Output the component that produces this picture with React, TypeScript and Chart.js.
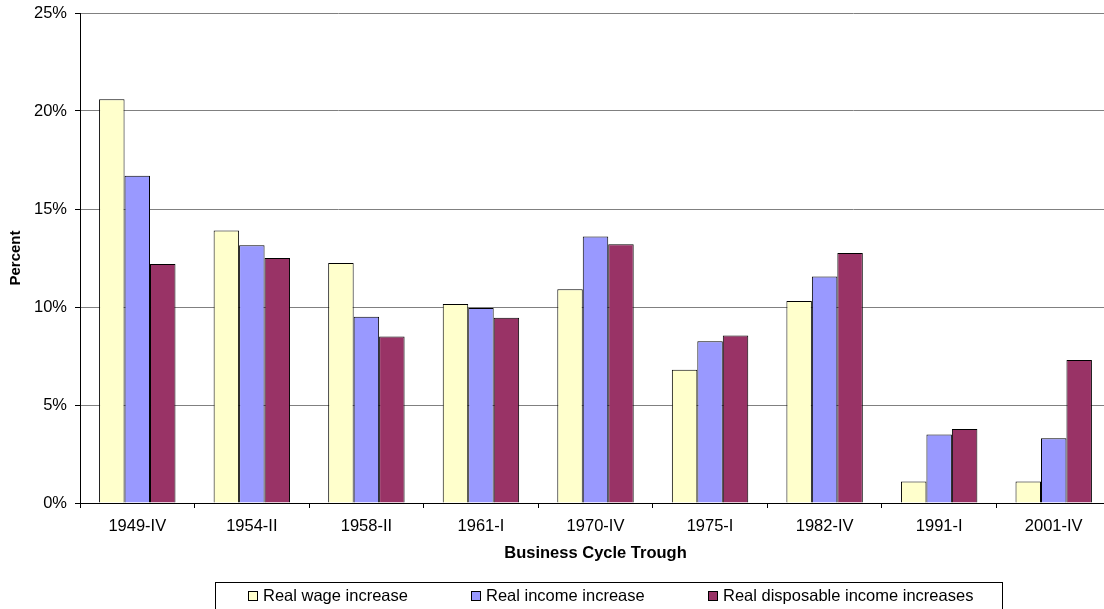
import React, { useEffect, useRef } from 'react';
import { Chart, registerables } from 'chart.js';

Chart.register(...registerables);

const categories = ['1949-IV', '1954-II', '1958-II', '1961-I', '1970-IV', '1975-I', '1982-IV', '1991-I', '2001-IV'];
const wageIncrease = [20.6, 13.9, 12.25, 10.15, 10.9, 6.8, 10.3, 1.1, 1.1];
const incomeIncrease = [16.7, 13.15, 9.5, 9.95, 13.6, 8.25, 11.55, 3.5, 3.3];
const disposableIncrease = [12.2, 12.5, 8.5, 9.45, 13.2, 8.55, 12.75, 3.78, 7.3];
const seriesLabels = ['Real wage increase', 'Real income increase', 'Real disposable income increases'];
const seriesColors = ['#FFFFCC', '#9999FF', '#993366'];
const yMin = 0;
const yMax = 25;
const yStep = 5;
const xTitle = 'Business Cycle Trough';
const yTitle = 'Percent';

const FONT = 'Arial, "Liberation Sans", Helvetica, sans-serif';

const boxedLegend = {
  id: 'boxedLegend',
  afterDraw(chart: any) {
    const ctx = chart.ctx as CanvasRenderingContext2D;
    const datasets = chart.data.datasets;
    ctx.save();
    ctx.font = `16.5px ${FONT}`;
    const box = 10;
    const boxGap = 5;
    const itemGap = 63;
    const widths = datasets.map((d: any) => box + boxGap + ctx.measureText(d.label).width);
    const total = widths.reduce((a: number, b: number) => a + b, 0) + itemGap * (widths.length - 1);
    const cx = chart.width / 2;
    let x = Math.round(cx - total / 2);
    const rowY = chart.height - 13;
    ctx.strokeStyle = '#000';
    ctx.lineWidth = 1;
    ctx.strokeRect(Math.round(x - 33) + 0.5, Math.round(rowY - 14) + 0.5, Math.round(total + 62), 60);
    datasets.forEach((d: any, i: number) => {
      const bx = Math.round(x);
      const by = Math.round(rowY - 5);
      ctx.fillStyle = d.backgroundColor;
      ctx.fillRect(bx, by, box, box);
      ctx.strokeStyle = '#000';
      ctx.strokeRect(bx + 0.5, by + 0.5, box - 1, box - 1);
      ctx.fillStyle = '#000';
      ctx.textBaseline = 'middle';
      ctx.textAlign = 'left';
      ctx.fillText(d.label, bx + box + boxGap, rowY);
      x += widths[i] + itemGap;
    });
    ctx.restore();
  },
};

export default function App() {
  const canvasRef = useRef<HTMLCanvasElement | null>(null);

  useEffect(() => {
    if (!canvasRef.current) return;
    const seriesValues = [wageIncrease, incomeIncrease, disposableIncrease];
    const chart = new Chart(canvasRef.current, {
      type: 'bar',
      data: {
        labels: categories,
        datasets: seriesValues.map((vals, i) => ({
          label: seriesLabels[i],
          data: vals,
          backgroundColor: seriesColors[i],
          borderColor: '#000',
          borderWidth: 1,
          categoryPercentage: 0.667,
          barPercentage: 1,
        })),
      },
      options: {
        responsive: false,
        animation: false,
        layout: { padding: { left: 0, top: 13, right: 109, bottom: 0 } },
        plugins: {
          legend: { display: false },
          tooltip: { enabled: false },
        },
        scales: {
          x: {
            grid: {
              display: true,
              drawOnChartArea: false,
              drawTicks: true,
              tickLength: 5,
              color: '#000',
              offset: true,
            },
            border: { color: '#000', width: 1 },
            ticks: {
              color: '#000',
              font: { family: FONT, size: 16.5 },
              padding: 9,
              maxRotation: 0,
              autoSkip: false,
            },
            title: {
              display: true,
              text: xTitle,
              color: '#000',
              font: { family: FONT, size: 16.5, weight: 'bold' },
              padding: { top: 0, bottom: 46 },
            },
            afterFit: (s: any) => {
              s.height = 106;
            },
          },
          y: {
            min: yMin,
            max: yMax,
            ticks: {
              stepSize: yStep,
              color: '#000',
              font: { family: FONT, size: 16.5, lineHeight: 0.5 },
              padding: 8,
              callback: (v: any) => `${v}%`,
            },
            grid: {
              color: (c: any) => (c.tick && c.tick.value === 0 ? '#000' : '#808080'),
              tickColor: '#000',
              tickLength: 5,
              lineWidth: 1,
            },
            border: { color: '#000', width: 1 },
            title: {
              display: true,
              text: yTitle,
              color: '#000',
              font: { family: FONT, size: 15, weight: 'bold' },
              padding: { top: 7, bottom: 0 },
            },
            afterFit: (s: any) => {
              s.width = 80;
            },
          },
        },
      },
      plugins: [boxedLegend],
    } as any);
    return () => chart.destroy();
  }, []);

  return (
    <div style={{ position: 'fixed', left: 0, top: 0, width: '100vw', height: '100vh', overflow: 'hidden', background: '#fff' }}>
      <canvas ref={canvasRef} width={1220} height={609} style={{ display: 'block', width: '1220px', height: '609px' }} />
    </div>
  );
}
